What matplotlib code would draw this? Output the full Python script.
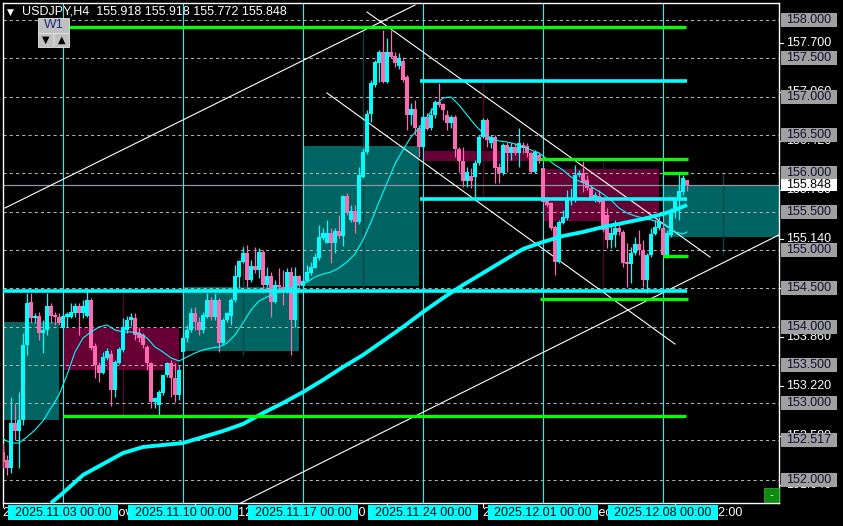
import matplotlib
matplotlib.use('Agg')
import matplotlib.pyplot as plt
import matplotlib.transforms as mtransforms
from matplotlib.patches import Rectangle
from matplotlib.lines import Line2D

plt.rcParams['font.family'] = ['Liberation Sans', 'DejaVu Sans']

# ---------------- data ----------------
symbol = "USDJPY,H4"
header_ohlc = [155.918, 155.918, 155.772, 155.848]
bid_price = 155.848

first_bar = -15  # bar index 0 = 2025.11.03 00:00 (H4 bars)
opens = [152.365, 152.261, 152.157, 152.744, 152.639, 152.783, 153.761, 154.322, 154.113, 154.139,
         153.918, 153.957, 154.270, 154.152, 154.126, 153.983, 154.126, 154.126, 154.179, 154.270,
         154.179, 154.139, 154.348, 153.748, 153.500, 153.396, 153.592, 153.644, 153.174, 153.527,
         153.696, 153.957, 154.087, 154.113, 153.918, 153.892, 153.735, 153.526, 153.018, 152.979,
         153.135, 153.370, 153.526, 153.331, 153.109, 153.670, 153.852, 153.957, 154.179, 154.061,
         153.957, 154.126, 154.348, 154.126, 154.348, 153.787, 154.087, 154.139, 154.348, 154.648,
         154.844, 154.961, 154.609, 154.791, 154.739, 154.974, 154.544, 154.661, 154.322, 154.544,
         154.518, 154.492, 154.713, 154.087, 154.661, 154.531, 154.596, 154.700, 154.765, 154.896,
         155.157, 155.091, 155.222, 155.091, 155.248, 155.183, 155.705, 155.392, 155.509, 155.366,
         155.952, 156.279, 156.774, 157.152, 157.439, 157.583, 157.191, 157.583, 157.531, 157.400,
         157.465, 157.257, 156.761, 156.839, 156.591, 156.344, 156.735, 156.591, 156.761, 156.931,
         156.904, 156.761, 156.657, 156.735, 156.318, 156.161, 155.900, 155.965, 155.952, 156.135,
         156.474, 156.696, 156.396, 156.474, 156.083, 156.005, 156.370, 156.265, 156.344, 156.265,
         156.370, 156.357, 156.265, 156.018, 156.239, 156.070, 155.652, 155.613, 155.300, 154.844,
         155.352, 155.418, 155.652, 155.665, 155.978, 156.005, 155.913, 155.809, 155.678, 155.705,
         155.652, 155.457, 155.131, 155.196, 155.287, 155.235, 154.844, 154.818, 154.961, 155.078,
         155.000, 154.609, 154.935, 155.209, 155.287, 155.287, 154.935, 155.196, 155.496, 155.652,
         155.757, 155.918]
highs = [152.483, 152.326, 153.083, 153.005, 153.148, 153.918, 154.439, 154.439, 154.179, 154.192,
         154.087, 154.439, 154.309, 154.192, 154.179, 154.179, 154.192, 154.309, 154.309, 154.309,
         154.348, 154.492, 154.374, 153.787, 153.539, 153.670, 153.722, 153.696, 153.566, 153.735,
         154.113, 154.139, 154.179, 154.179, 153.996, 153.918, 153.761, 153.539, 153.083, 153.174,
         153.370, 153.539, 153.566, 153.526, 153.500, 153.918, 154.022, 154.244, 154.257, 154.126,
         154.192, 154.439, 154.387, 154.439, 154.374, 154.113, 154.192, 154.374, 154.805, 154.870,
         155.039, 155.065, 154.870, 155.039, 155.026, 155.000, 154.779, 154.713, 154.609, 154.765,
         154.739, 154.765, 154.779, 154.779, 154.674, 154.622, 154.805, 154.844, 154.961, 155.326,
         155.287, 155.391, 155.287, 155.287, 155.457, 155.718, 155.744, 155.587, 155.587, 156.083,
         156.330, 156.826, 157.218, 157.478, 157.609, 157.870, 157.765, 157.870, 157.583, 157.570,
         157.518, 157.283, 156.918, 156.957, 156.631, 156.761, 156.787, 156.852, 156.957, 157.178,
         156.918, 156.826, 156.761, 156.761, 156.344, 156.344, 156.083, 156.070, 156.174, 156.500,
         156.722, 156.722, 156.500, 156.500, 156.135, 156.396, 156.409, 156.396, 156.396, 156.591,
         156.409, 156.396, 156.279, 156.305, 156.279, 156.070, 155.692, 155.626, 155.326, 155.391,
         155.522, 155.783, 155.809, 156.109, 156.044, 156.161, 155.978, 155.848, 155.757, 155.783,
         155.678, 155.548, 155.326, 155.391, 155.365, 155.261, 155.091, 155.039, 155.170, 155.261,
         155.131, 154.961, 155.287, 155.391, 155.431, 155.391, 155.261, 155.548, 155.692, 156.005,
         155.978, 155.918]
lows = [152.157, 152.066, 152.092, 152.522, 152.157, 152.718, 153.631, 154.048, 154.048, 153.826,
        153.657, 153.892, 154.048, 154.022, 154.022, 153.983, 154.000, 154.113, 154.126, 153.892,
        154.113, 154.126, 153.696, 153.331, 153.279, 153.383, 153.566, 152.966, 153.083, 153.514,
        153.670, 153.918, 154.009, 153.826, 153.800, 153.722, 153.435, 152.939, 152.939, 152.848,
        153.109, 153.344, 153.083, 153.018, 153.044, 153.631, 153.800, 153.931, 153.957, 153.892,
        153.918, 154.113, 154.087, 154.087, 153.670, 153.761, 154.061, 154.022, 154.322, 154.505,
        154.831, 154.518, 154.583, 154.700, 154.635, 154.439, 154.518, 154.126, 154.309, 154.505,
        154.283, 154.439, 153.631, 153.996, 154.518, 154.505, 154.583, 154.674, 154.765, 154.870,
        155.131, 155.091, 154.831, 154.961, 155.157, 155.052, 155.457, 155.366, 155.222, 155.340,
        155.939, 156.252, 156.670, 157.126, 157.191, 157.178, 157.178, 157.505, 157.387, 157.361,
        157.191, 156.565, 156.631, 156.500, 156.213, 156.318, 156.565, 156.565, 156.722, 156.865,
        156.696, 156.565, 156.591, 156.213, 156.018, 155.822, 155.822, 155.809, 155.692, 156.109,
        156.461, 156.344, 156.330, 155.874, 155.874, 155.978, 156.018, 156.174, 156.239, 156.083,
        156.265, 156.213, 156.005, 156.005, 156.135, 155.613, 155.561, 155.261, 154.674, 154.831,
        155.339, 155.391, 155.587, 155.626, 155.952, 155.757, 155.783, 155.652, 155.626, 155.613,
        155.235, 155.026, 155.026, 155.039, 155.196, 154.778, 154.518, 154.570, 154.935, 154.935,
        154.518, 154.439, 154.909, 155.196, 155.261, 154.909, 154.896, 155.170, 155.418, 155.392,
        155.718, 155.772]
closes = [152.235, 152.157, 152.744, 152.639, 152.783, 153.761, 154.309, 154.113, 154.139, 153.918,
          153.957, 154.270, 154.139, 154.126, 154.048, 154.139, 154.166, 154.192, 154.270, 154.179,
          154.270, 154.348, 153.722, 153.500, 153.396, 153.605, 153.683, 153.174, 153.540, 153.709,
          153.996, 154.087, 154.126, 153.892, 153.852, 153.761, 153.526, 153.018, 153.070, 153.148,
          153.370, 153.526, 153.331, 153.109, 153.435, 153.852, 153.957, 154.179, 154.061, 153.957,
          154.152, 154.348, 154.126, 154.348, 153.787, 154.087, 154.179, 154.348, 154.661, 154.857,
          154.961, 154.609, 154.791, 154.739, 154.974, 154.544, 154.661, 154.322, 154.544, 154.518,
          154.465, 154.713, 154.087, 154.661, 154.544, 154.596, 154.713, 154.779, 154.909, 155.170,
          155.222, 155.222, 155.091, 155.248, 155.183, 155.705, 155.483, 155.509, 155.366, 155.978,
          156.279, 156.774, 157.178, 157.452, 157.583, 157.191, 157.583, 157.518, 157.439, 157.505,
          157.218, 156.761, 156.839, 156.591, 156.344, 156.735, 156.578, 156.761, 156.931, 156.891,
          156.826, 156.657, 156.735, 156.318, 156.161, 155.900, 156.018, 155.900, 156.135, 156.474,
          156.696, 156.435, 156.474, 156.070, 156.005, 156.370, 156.265, 156.344, 156.265, 156.396,
          156.330, 156.265, 156.018, 156.279, 156.161, 155.626, 155.587, 155.287, 154.844, 155.366,
          155.431, 155.652, 155.678, 155.978, 156.005, 155.874, 155.809, 155.678, 155.718, 155.626,
          155.261, 155.131, 155.222, 155.287, 155.235, 154.831, 154.818, 154.961, 155.078, 155.000,
          154.609, 154.935, 155.209, 155.300, 155.378, 154.935, 155.222, 155.496, 155.652, 155.770,
          155.939, 155.848]
bars = list(range(first_bar, first_bar + len(opens)))

# weekly candles (W1 overlay)
week_start_bars = [-30, 0, 30, 60, 90, 120, 150]
week_open = [152.783, 153.983, 153.683, 154.531, 156.290, 156.057, 155.170]
week_close = [154.061, 153.435, 154.518, 156.357, 156.160, 155.378, 155.848]
week_high = [154.061, 154.490, 155.065, 157.870, 157.190, 156.174, 156.000]
week_low = [152.783, 152.830, 153.631, 154.505, 155.690, 154.387, 154.935]
week_labels = ["2025.11.03 00:00", "2025.11.10 00:00", "2025.11.17 00:00",
               "2025.11.24 00:00", "2025.12.01 00:00", "2025.12.08 00:00"]

time_tick_bars = [-15, 9, 33, 57, 81, 105, 129, 153]
time_tick_labels = ["29 Oct 2025", "4 Nov 12:00", "10 Nov 12:00", "14 Nov 12:00",
                    "20 Nov 12:00", "26 Nov 12:00", "2 Dec 12:00", "8 Dec 12:00"]

# fast moving average (thin)
ma_fast_bars = list(range(-15, 157, 2)) + [156]
ma_fast_vals = [152.535, 152.483, 152.483, 152.561, 152.653, 152.770, 152.939, 153.109, 153.370, 153.670,
                153.852, 153.931, 153.996, 154.022, 153.957, 153.931, 153.931, 153.918, 153.852, 153.735,
                153.670, 153.592, 153.552, 153.605, 153.657, 153.696, 153.722, 153.735, 153.787, 153.892,
                154.048, 154.218, 154.335, 154.387, 154.439, 154.465, 154.505, 154.544, 154.583, 154.648,
                154.687, 154.713, 154.765, 154.844, 154.948, 155.131, 155.365, 155.626, 155.874, 156.122,
                156.305, 156.474, 156.591, 156.735, 156.878, 156.983, 156.996, 156.891, 156.761, 156.631,
                156.526, 156.461, 156.422, 156.409, 156.383, 156.344, 156.305, 156.265, 156.187, 156.109,
                156.044, 155.952, 155.900, 155.861, 155.796, 155.731, 155.652, 155.548, 155.483, 155.444,
                155.418, 155.392, 155.365, 155.313, 155.235, 155.209, 155.235]
# slow moving average (thick)
ma_slow_bars = [-3, 0, 5, 10, 15, 20, 25, 30, 35, 40, 45, 50, 55, 60, 65, 70, 75, 80, 85, 90,
                95, 100, 105, 110, 115, 120, 125, 130, 135, 140, 145, 150, 153, 156]
ma_slow_vals = [151.700, 151.831, 152.066, 152.209, 152.352, 152.431, 152.457, 152.483, 152.561, 152.639,
                152.731, 152.874, 153.005, 153.148, 153.305, 153.474, 153.631, 153.813, 153.996, 154.192,
                154.374, 154.544, 154.700, 154.857, 155.013, 155.105, 155.183, 155.235, 155.300, 155.352,
                155.405, 155.470, 155.522, 155.587]

green_levels = [157.909, 152.835, 156.187, 154.361, 156.005, 154.922]
green_from = [0, 0, 119.25, 119.25, 150, 150]
green_to = [155.75, 155.75, 156.25, 156.25, 156.25, 156.25]
cyan_levels = [154.459, 157.205, 155.665]
cyan_from = [-15.2, 89.25, 89.25]
cyan_to = [156.0, 156.0, 156.0]

# trend lines: (bar, price) anchor pairs
trend_lines = [((-14.5, 155.548), (88.0, 158.195)),
               ((41.75, 151.631), (179.0, 155.197)),
               ((76.0, 158.104), (161.75, 154.909)),
               ((66.0, 157.048), (153.0, 153.774))]

price_marks = [158.0, 157.5, 157.0, 156.5, 156.0, 155.5, 155.0, 154.5, 154.0, 153.5, 153.0, 152.517, 152.0]
scale_marks = [157.700, 157.060, 156.420, 155.780, 155.140, 154.500, 153.860, 153.220, 152.580, 151.940]

# ---------------- drawing ----------------
W, H = 843, 526
fig = plt.figure(figsize=(W / 100, H / 100), dpi=100, facecolor='black')
ax = fig.add_axes([2.5 / W, 1 - 502.5 / H, 776.5 / W, 500 / H])
ax.set_facecolor('black')
ax.set_xlim(-15.125, 179)
ax.set_ylim(151.707, 158.228)
ax.set_xticks([])
ax.set_yticks([])
for s in ax.spines.values():
    s.set_color('white')
    s.set_linewidth(1.0)

PPX = (158.228 - 151.707) / 500.0  # price per pixel
BPX = 194.125 / 776.5                # bars per pixel
TEAL = '#006462'
PINK_BOX = '#660035'
CYAN = '#00ffff'
PINK = '#ff69b4'

# weekly boxes and wicks
for ws, o, c, hi, lo in zip(week_start_bars, week_open, week_close, week_high, week_low):
    col = TEAL if c >= o else PINK_BOX
    ax.add_patch(Rectangle((ws, min(o, c)), 29, abs(c - o), facecolor=col, edgecolor='none', zorder=1))
    wcol = '#0b4444' if c >= o else '#4e0a26'
    ax.vlines(ws + 15, lo, hi, colors=wcol, lw=1.0, zorder=1.5)

# grid
for p in price_marks:
    ax.axhline(p, color='#b4b4b4', lw=0.75, ls=(0, (3, 3)), zorder=2)
ax.axhline(bid_price, color='#8c96a0', lw=0.9, zorder=2)

# week separators
for ws in week_start_bars[1:]:
    ax.axvline(ws, color=CYAN, lw=0.8, zorder=2.5)

# trend lines
for (a, b) in trend_lines:
    ax.plot([a[0], b[0]], [a[1], b[1]], color='white', lw=0.8, zorder=3)

# candles
cols = [CYAN if c >= o else PINK for o, c in zip(opens, closes)]
ax.vlines(bars, lows, highs, colors=cols, lw=0.9, zorder=4)
bottoms = [min(o, c) for o, c in zip(opens, closes)]
heights = [max(abs(c - o), PPX) for o, c in zip(opens, closes)]
ax.bar(bars, heights, bottom=bottoms, width=0.78, color=cols, linewidth=0, zorder=5)

# moving averages
ax.plot(ma_slow_bars, ma_slow_vals, color=CYAN, lw=2.8, zorder=6, solid_capstyle='butt')
ax.plot(ma_fast_bars, ma_fast_vals, color=CYAN, lw=0.8, zorder=6)

# levels
ax.hlines(green_levels, green_from, green_to, colors='#00ff00', lw=2.3, zorder=7)
ax.hlines(cyan_levels, cyan_from, cyan_to, colors=CYAN, lw=2.6, zorder=7)

# ---------- price axis ----------
bt = mtransforms.blended_transform_factory(fig.transFigure, ax.transData)
for p in scale_marks:
    ax.add_line(Line2D([779 / W, 783 / W], [p, p], transform=bt, color='white', lw=0.8, clip_on=False))
    ax.text(786 / W, p, f"{p:.3f}", transform=bt, color='white', fontsize=9, va='center', ha='left',
            clip_on=False, zorder=8)
for p in price_marks:
    ax.add_patch(Rectangle((781 / W, p - 7 * PPX), 56 / W, 14 * PPX, transform=bt, facecolor='#a0a0a0',
                           edgecolor='none', clip_on=False, zorder=9))
    ax.text(786 / W, p, f"{p:.3f}", transform=bt, color='#101030', fontsize=9, va='center', ha='left',
            clip_on=False, zorder=10)
ax.add_patch(Rectangle((781 / W, bid_price - 6 * PPX), 56 / W, 12 * PPX, transform=bt, facecolor='white',
                       edgecolor='none', clip_on=False, zorder=11))
ax.text(786 / W, bid_price, f"{bid_price:.3f}", transform=bt, color='black', fontsize=9, va='center',
        ha='left', clip_on=False, zorder=12)

# ---------- time axis ----------
tt = mtransforms.blended_transform_factory(ax.transData, fig.transFigure)
for b, lab in zip(time_tick_bars, time_tick_labels):
    ax.add_line(Line2D([b, b], [1 - 502.5 / H, 1 - 507 / H], transform=tt, color='white', lw=0.8,
                       clip_on=False))
    ax.text(b + 0.1, 1 - 513 / H, lab, transform=tt, color='white', fontsize=9, va='center', ha='left',
            clip_on=False, zorder=8)
for b, lab in zip(week_start_bars[1:], week_labels):
    ax.add_patch(Rectangle((b - 55 * BPX, 1 - 520 / H), 110 * BPX, 15 / H, transform=tt, facecolor=CYAN,
                           edgecolor='none', clip_on=False, zorder=9))
    ax.text(b, 1 - 512.5 / H, lab, transform=tt, color='black', fontsize=9, va='center', ha='center',
            clip_on=False, zorder=10)

# ---------- header & widgets ----------
fig.text(7 / W, 1 - 12 / H, '\u25BC', color='white', fontsize=6.5, va='center', ha='left',
         family='DejaVu Sans')
fig.text(22 / W, 1 - 12 / H,
         f"{symbol}  {header_ohlc[0]:.3f} {header_ohlc[1]:.3f} {header_ohlc[2]:.3f} {header_ohlc[3]:.3f}",
         color='white', fontsize=9, va='center', ha='left')

fig.add_artist(Rectangle((38 / W, 1 - 33 / H), 31 / W, 15 / H, transform=fig.transFigure,
                         facecolor='#c0c0c0', edgecolor='#e8e8e8', lw=0.6))
fig.text(53.5 / W, 1 - 25.5 / H, 'W1', color='#1e2a78', fontsize=9.5, va='center', ha='center')
fig.add_artist(Rectangle((38 / W, 1 - 47 / H), 15 / W, 14 / H, transform=fig.transFigure,
                         facecolor='#c0c0c0', edgecolor='#e8e8e8', lw=0.6))
fig.add_artist(Rectangle((54 / W, 1 - 47 / H), 15 / W, 14 / H, transform=fig.transFigure,
                         facecolor='#c0c0c0', edgecolor='#e8e8e8', lw=0.6))
fig.text(45.5 / W, 1 - 40 / H, '\u25BC', color='black', fontsize=7, va='center', ha='center',
         family='DejaVu Sans')
fig.text(61.5 / W, 1 - 40 / H, '\u25B2', color='black', fontsize=7, va='center', ha='center',
         family='DejaVu Sans')

fig.add_artist(Rectangle((764 / W, 1 - 502 / H), 15 / W, 14 / H, transform=fig.transFigure,
                         facecolor='#0f8c0f', edgecolor='#40b040', lw=0.5))
fig.text(771.5 / W, 1 - 495 / H, '-', color='white', fontsize=8, va='center', ha='center')

fig.savefig('out.png', dpi=100, facecolor='black')
